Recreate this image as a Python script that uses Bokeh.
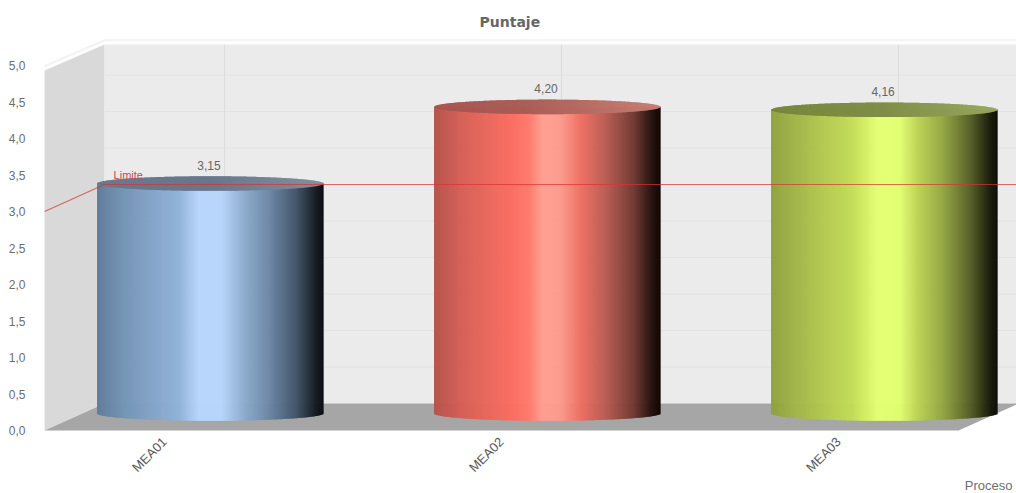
import numpy as np
from bokeh.core.properties import value
from bokeh.embed import file_html
from bokeh.models import FixedTicker, Title
from bokeh.plotting import figure
from bokeh.resources import INLINE

# Scores per process
categories = ["MEA01", "MEA02", "MEA03"]
scores = [3.15, 4.20, 4.16]
score_labels = ["3,15", "4,20", "4,16"]
limit_value = 3.0
limit_label = "Limite"
x_axis_title = "Proceso"
y_ticks = [0.0, 0.5, 1.0, 1.5, 2.0, 2.5, 3.0, 3.5, 4.0, 4.5, 5.0]
y_tick_labels = ["0,0", "0,5", "1,0", "1,5", "2,0", "2,5", "3,0", "3,5", "4,0", "4,5", "5,0"]

# Horizontal shading of each cylinder side: (position, colour) pairs
ramps = [
    [(0, "#5f7c9b"), (.12, "#7595b6"), (.36, "#90b2d8"), (.45, "#b8d6fb"), (.55, "#b8d6fb"),
     (.65, "#8dacce"), (.76, "#6c88a6"), (.88, "#42556a"), (.97, "#14191f"), (1, "#0a0c10")],
    [(0, "#b4524b"), (.12, "#d65f56"), (.34, "#fb6d60"), (.42, "#ff7a6c"), (.48, "#ff9f92"), (.56, "#fb9a8d"),
     (.65, "#ee6f62"), (.76, "#b85c52"), (.88, "#723b33"), (.97, "#1f0d0a"), (1, "#100403")],
    [(0, "#8fa13f"), (.12, "#a3b749"), (.36, "#c4dd56"), (.47, "#e4ff73"), (.57, "#e2fe70"),
     (.65, "#bcd354"), (.76, "#93a642"), (.88, "#565f26"), (.97, "#161a08"), (1, "#0a0c03")],
]
lid_ramps = [
    [(0, "#66798f"), (.5, "#667589"), (1, "#7f8fa0")],
    [(0, "#a8544e"), (.4, "#a85c55"), (1, "#c77d72")],
    [(0, "#76863a"), (.5, "#7e8c44"), (1, "#9aa75f")],
]

# Screen geometry of the oblique box, expressed in axis units
PX_X = 337.0
PX_Y = 73.0
FRAME_TOP_PX = 30
FRAME_BOTTOM_PX = 493
X_START, X_END = -0.374, 2.528
Y_START = -(FRAME_BOTTOM_PX - 430) / PX_Y
Y_END = (430 - FRAME_TOP_PX) / PX_Y
FLOOR_L, FLOOR_R = -0.356, 2.356
WALL_TOP = 4.93
DEPTH_X = 60 / PX_X
DEPTH_Y = 27 / PX_Y
WALL_TOP_BACK = WALL_TOP + 26 / PX_Y
BAR_DX = 45.5 / PX_X
BAR_DY = 17 / PX_Y
BAR_HALF = 113 / PX_X
CAP_RY = 7.3 / PX_Y


def hex_rgb(c):
    return np.array([int(c[i:i + 2], 16) for i in (1, 3, 5)], dtype=float)


def shade(stops, t):
    pos = [s[0] for s in stops]
    rgb = np.array([hex_rgb(s[1]) for s in stops])
    return np.stack([np.interp(t, pos, rgb[:, k]) for k in range(3)], axis=1)


def to_hex(rgb):
    return ["#%02x%02x%02x" % tuple(int(round(v)) for v in row) for row in rgb]


p = figure(
    width=1016, height=493, output_backend="svg", toolbar_location=None,
    x_range=(X_START, X_END), y_range=(Y_START, Y_END),
    min_border_left=38, min_border_right=0, min_border_bottom=0, min_border_top=FRAME_TOP_PX,
    outline_line_color=None, background_fill_color="white", border_fill_color="white",
)
p.grid.visible = False
p.frame_height = FRAME_BOTTOM_PX - FRAME_TOP_PX

title = Title(text="Puntaje", align="left", offset=441, text_font="DejaVu Sans",
              text_font_size="14px", text_font_style="bold", text_color="#666666",
              standoff=2)
p.add_layout(title, "above")

# Axes
ya = p.yaxis[0]
ya.ticker = FixedTicker(ticks=y_ticks)
ya.major_label_overrides = dict(zip(y_ticks, y_tick_labels))
ya.axis_line_color = None
ya.major_tick_line_color = None
ya.minor_tick_line_color = None
ya.major_label_text_color = "#6e6e6e"
ya.major_label_text_font = "Liberation Sans"
ya.major_label_text_font_size = "12px"
ya.major_label_standoff = 7

# The category axis sits on the front edge of the floor
xa = p.xaxis[0]
xa.fixed_location = 0
xa.ticker = FixedTicker(ticks=list(range(len(categories))))
xa.major_label_overrides = dict(enumerate(categories))
xa.major_label_orientation = np.pi / 4
xa.axis_line_color = None
xa.major_tick_line_color = None
xa.minor_tick_line_color = None
xa.major_label_text_color = "#5a5a5a"
xa.major_label_text_font = "Liberation Sans"
xa.major_label_text_font_size = "13px"
xa.major_label_standoff = 3

# Box: pale rim, side wall, back wall, floor
p.line([FLOOR_L, FLOOR_L + DEPTH_X, X_END],
       [WALL_TOP + 0.06, WALL_TOP_BACK + 0.06, WALL_TOP_BACK + 0.06],
       line_color="#f3f3f3", line_width=2)
p.patch([FLOOR_L, FLOOR_L + DEPTH_X, FLOOR_L + DEPTH_X, FLOOR_L],
        [0, DEPTH_Y, WALL_TOP_BACK, WALL_TOP], fill_color="#d9d9d9", line_color=None)
p.quad(left=FLOOR_L + DEPTH_X, right=X_END, bottom=DEPTH_Y, top=WALL_TOP_BACK,
       fill_color="#ebebeb", line_color=None)
p.patch([FLOOR_L, FLOOR_R, FLOOR_R + DEPTH_X, FLOOR_L + DEPTH_X],
        [0, 0, DEPTH_Y, DEPTH_Y], fill_color="#a6a6a6", line_color=None)

# Back wall grid
grid_y = [v + DEPTH_Y for v in y_ticks[1:-1]]
p.segment(x0=FLOOR_L + DEPTH_X, x1=X_END, y0=grid_y, y1=grid_y,
          line_color="#e2e2e2", line_width=1)
grid_x = [i + DEPTH_X for i in range(len(categories))] + [X_END]
p.segment(x0=grid_x, x1=grid_x, y0=DEPTH_Y, y1=WALL_TOP_BACK,
          line_color="#dcdcdc", line_width=1)

# Cylinders, built from thin vertical strips
N = 226
edges = np.linspace(-1, 1, N + 1)
mids = (edges[:-1] + edges[1:]) / 2
overlap = 0.6 / PX_X
for i, (v, stops, lid_stops) in enumerate(zip(scores, ramps, lid_ramps)):
    cx = i + BAR_DX
    base = BAR_DY
    top = base + v
    t = (mids + 1) / 2
    curve = CAP_RY * np.sqrt(np.clip(1 - mids ** 2, 0, 1))
    xl = cx + edges[:-1] * BAR_HALF
    xr = cx + edges[1:] * BAR_HALF + overlap
    p.quad(left=xl, right=xr, bottom=base - curve, top=top,
           fill_color=to_hex(shade(stops, t)), line_color=None)
    p.quad(left=xl, right=xr, bottom=top - curve, top=top + curve,
           fill_color=to_hex(shade(lid_stops, t)), line_color=None)

# Limit line runs along the side wall and then across the back
p.line([FLOOR_L, FLOOR_L + DEPTH_X, X_END],
       [limit_value, limit_value + DEPTH_Y, limit_value + DEPTH_Y],
       line_color="#dd3030", line_alpha=0.7, line_width=1.2)
p.text(x=[FLOOR_L + 69 / PX_X], y=[limit_value + DEPTH_Y + 10 / PX_Y], text=[limit_label],
       text_font=value("Liberation Sans"), text_font_size="11px", text_color="#c8464a",
       text_align="left", text_baseline="middle")

# Score labels over the lids
p.text(x=[i + BAR_DX - 1 / PX_X for i in range(len(scores))],
       y=[v + BAR_DY + 18.5 / PX_Y for v in scores], text=score_labels,
       text_font=value("Liberation Sans"), text_font_size="12px", text_color="#666666",
       text_align="center", text_baseline="middle")

# Axis caption in the lower right corner
p.text(x=[X_END - 4 / PX_X], y=[-55 / PX_Y], text=[x_axis_title],
       text_font=value("Liberation Sans"), text_font_size="13px", text_color="#6e6e6e",
       text_align="right", text_baseline="middle")

open("out.html", "w").write(file_html(p, INLINE))
